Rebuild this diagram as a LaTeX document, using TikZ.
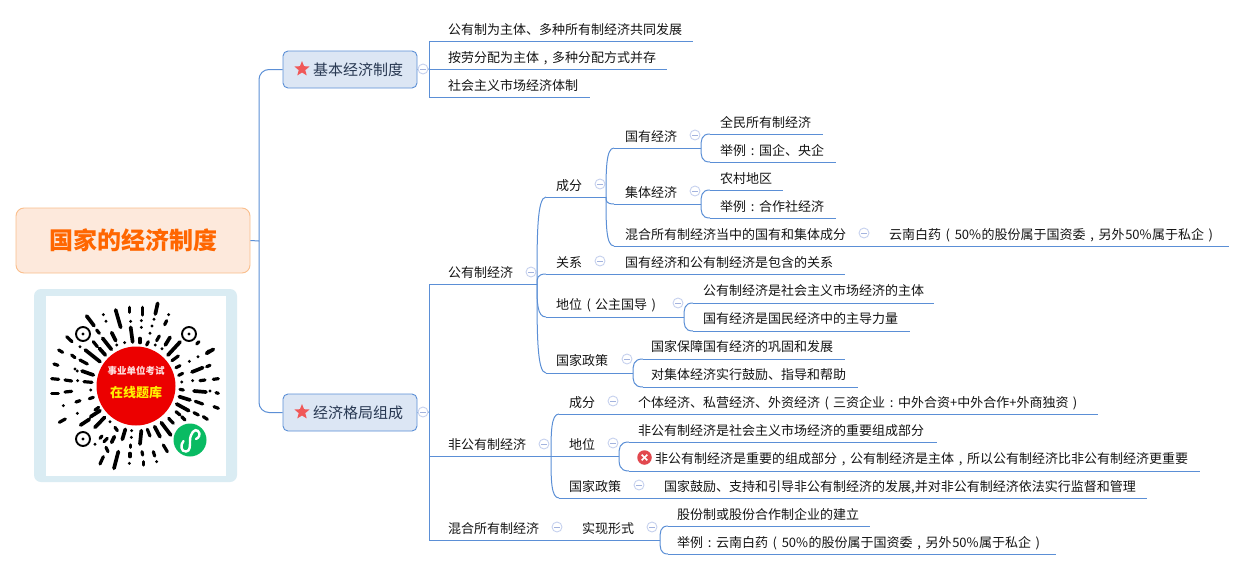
\documentclass[tikz,border=0pt]{standalone}
\usepackage{fontspec}
\setmainfont{Noto Sans CJK SC}
\usetikzlibrary{calc,shapes.geometric}
\definecolor{lineblue}{HTML}{5B8FD6}
\definecolor{boxfill}{HTML}{DCE6F4}
\definecolor{ink}{HTML}{141414}
\definecolor{togglecol}{HTML}{C6D1EE}
\definecolor{toggledash}{HTML}{A3B3DE}
\newcommand{\fw}[1]{\makebox[1em][c]{#1}}
\newcommand{\pct}{\makebox[27.5pt][c]{50\%}}
\tikzset{
  txt/.style={anchor=west,inner sep=0pt,text=ink,font=\fontsize{13}{13}\selectfont,text height=12pt,text depth=0.5pt},
  maintxt/.style={anchor=west,inner sep=0pt,text={rgb,255:red,40;green,56;blue,82},font=\fontsize{15}{15}\selectfont,text height=13pt,text depth=2pt},
  ln/.style={draw=lineblue,line width=1pt},
  mainbox/.style={draw=lineblue,fill=boxfill,rounded corners=5pt,line width=0.9pt,minimum width=134pt,minimum height=37pt,inner sep=0pt},
  togglec/.style={circle,draw=togglecol,fill=white,line width=0.9pt,minimum size=10pt,inner sep=0pt},
  qrd/.style={line width=3.2pt,line cap=round,black},
  qrs/.style={line width=3.7pt,line cap=round,black}
}
% name x1 x2 y textx texty text
\newcommand{\topicline}[7]{%
  \coordinate (#1-s) at (#2,#4);
  \coordinate (#1-e) at (#3,#4);
  \node[txt] (#1) at (#5,#6) {#7};
  \draw[ln] (#1-s) -- (#1-e);
}
\newcommand{\tail}[4]{%
  \node[txt] (#1) at (#2,#3) {#4};
}
\newcommand{\toggle}[3]{%
  \node[togglec] (#1) at (#2,#3) {};
  \draw[toggledash,line width=0.9pt] ($(#1.center)+(-3,0)$) -- ($(#1.center)+(3,0)$);
}
\newcommand{\branch}[2]{%
  \draw[ln] (#1) .. controls ($(#1)!0.55!(#1|-#2)$) and (#1|-#2) .. (#2);
}
\begin{document}
\begin{tikzpicture}[x=1pt,y=-1pt]
\useasboundingbox (0,0) rectangle (1246,570);
\fill[white] (0,0) rectangle (1246,570);

% root
\node[draw={rgb,255:red,250;green,190;blue,140},fill={rgb,255:red,253;green,233;blue,220},rounded corners=8pt,line width=0.9pt,minimum width=234pt,minimum height=65pt,inner sep=0pt,text={rgb,255:red,255;green,102;blue,0},font=\fontsize{24}{24}\selectfont\bfseries] (root) at (133,240.5) {国家的经济制度};

% QR panel
\fill[fill={rgb,255:red,218;green,236;blue,243},rounded corners=7pt] (34,289) rectangle (237,482);
\fill[white] (46,296) rectangle (226,476);
\begin{scope}[x=0.33333pt,y=-0.33333pt,yshift=-190pt]
\foreach \a/\b/\c/\d in {
 388/352/388/367, 428/352/428/375, 392/394/392/394, 424/392/424/392, 424/412/424/412, 462/388/462/388, 456/408/456/408,
 310/374/310/374, 318/394/318/394, 506/374/506/374, 500/392/494/404,
 290/420/298/430, 374/458/374/458, 420/445/420/458, 450/430/450/430, 445/455/440/465, 478/438/470/452,
 280/455/292/470, 350/465/350/465, 466/465/466/465, 486/476/486/476,
 200/440/216/455, 240/470/240/470, 597/455/590/462, 176/480/188/487, 215/495/225/503, 240/510/262/522,
 628/482/620/490, 594/500/594/500, 568/514/568/514, 535/498/516/512, 540/527/528/533,
 162/522/174/526, 225/537/225/537, 232/543/232/543, 630/526/620/530, 548/550/536/556,
 155/566/176/568, 195/570/215/573, 233/572/233/572, 252/575/276/577, 655/566/640/568, 615/570/600/572, 578/572/578/572, 545/576/545/576,
 155/610/175/610, 195/606/215/604, 272/600/272/600, 655/610/648/608, 550/600/540/598, 630/603/630/603,
 190/647/190/647, 228/636/240/632, 268/626/280/622, 655/655/642/650, 608/642/586/634,
 232/670/232/670, 178/697/196/687, 285/660/296/652, 622/688/610/680, 595/675/582/668,
 345/712/352/722, 330/695/330/695, 300/745/306/738, 322/745/312/755, 285/763/285/763, 395/722/395/722, 394/742/394/742,
 392/765/392/772, 390/790/390/800, 388/820/388/820, 426/785/428/795, 430/815/430/825, 442/718/450/738,
 460/785/464/798, 470/815/470/815, 490/765/502/785, 300/822/310/800, 318/772/324/785, 506/685/520/700, 528/665/540/675, 545/680/555/690}
 {\draw[qrd] (\a,\b) -- (\c,\d);}
\foreach \a/\b/\c/\d in {
 260/378/282/407, 347/360/362/412, 473/340/466/372, 335/428/347/452, 392/412/398/456, 510/442/496/465,
 308/445/334/478, 298/475/316/495, 256/480/300/515, 540/456/504/495, 640/478/620/490,
 246/543/280/555, 608/533/576/546, 618/606/582/603, 570/630/538/620,
 272/680/300/662, 242/705/268/688, 285/712/314/682, 566/662/530/642,
 335/757/343/740, 367/748/376/718, 420/762/424/722, 464/710/480/740, 484/698/512/735, 342/835/355/785}
 {\draw[qrs] (\a,\b) -- (\c,\d);}
\end{scope}
\foreach \cx/\cy in {83/334,189/334,83/439}{
  \draw[black,line width=1.9pt] (\cx,\cy) circle (7pt);
  \fill[black] (\cx,\cy) circle (1.7pt);
}
\fill[fill={rgb,255:red,236;green,0;blue,0}] (136,386) circle (39.5pt);
\node[inner sep=0pt,text={rgb,255:red,255;green,225;blue,225},font=\fontsize{9.5}{9.5}\selectfont\bfseries] (qrtop) at (136,371) {事业单位考试};
\node[inner sep=0pt,text={rgb,255:red,255;green,240;blue,0},font=\fontsize{13}{13}\selectfont\bfseries] (qrbot) at (136,393) {在线题库};
\fill[fill={rgb,255:red,9;green,187;blue,99}] (190,440) circle (16.5pt);
\draw[white,line width=2.4pt,line cap=round] (183.5,441) .. controls (180,445) and (181,452) .. (186,451.5) .. controls (190,451) and (190,447) .. (190,441) .. controls (190,433) and (195,428) .. (198,431) .. controls (201,434) and (199,438) .. (196,439);

% main topics
\coordinate (trunk) at (259,241);
\node[mainbox] (m1) at (350,69.5) {};
\node[mainbox] (m2) at (350,412.5) {};
\node[star,star points=5,star point ratio=2.3,minimum size=16pt,inner sep=0pt,fill={rgb,255:red,240;green,88;blue,88}] (star1) at (302,69) {};
\node[star,star points=5,star point ratio=2.3,minimum size=16pt,inner sep=0pt,fill={rgb,255:red,240;green,88;blue,88}] (star2) at (302,412) {};
\node[maintxt] (m1t) at (313,69.5) {基本经济制度};
\node[maintxt] (m2t) at (313,412.5) {经济格局组成};
\draw[ln] (root.east) -- (trunk);
\draw[ln,rounded corners=10pt] (trunk) |- (m1.west);
\draw[ln,rounded corners=10pt] (trunk) |- (m2.west);

% branch 1
\coordinate (h1) at (429,69);
\draw[ln] (m1.east) -- (h1);
\topicline{a1}{429}{693}{41}{448}{29}{公有制为主体、多种所有制经济共同发展}
\topicline{a2}{429}{667}{69}{448}{57}{按劳分配为主体\fw{,}多种分配方式并存}
\topicline{a3}{429}{590}{97}{448}{85}{社会主义市场经济体制}
\draw[ln] (a1-s) -- (a3-s);
\toggle{ta}{423}{69}

% branch 2
\coordinate (h2) at (429,412);
\draw[ln] (m2.east) -- (h2);
\topicline{b1}{429}{537}{284}{448}{272}{公有制经济}
\topicline{b2}{429}{551}{456}{448}{444}{非公有制经济}
\topicline{b3}{429}{660}{540}{448}{528}{混合所有制经济}
\draw[ln] (b1-s) -- (b3-s);
\toggle{tb}{423}{412}
\toggle{tb1}{531}{272}
\toggle{tb2}{544}{444}
\toggle{tb3}{557}{527}

% public economy
\topicline{c1}{546}{606}{197}{556}{185}{成分}
\topicline{c2}{546}{845}{274}{556}{262}{关系}
\topicline{c3}{546}{684}{317}{556}{304}{地位\fw{(}公主国导\fw{)}}
\topicline{c4}{546}{633}{373}{556}{360}{国家政策}
\foreach \n in {c1,c2,c3,c4}{\branch{b1-e}{\n-s}}
\toggle{tc1}{600}{184}
\toggle{tc2}{600}{261}
\toggle{tc3}{678}{303}
\toggle{tc4}{627}{359}
\tail{c2t}{625}{262}{国有经济和公有制经济是包含的关系}

\topicline{d1}{614}{701}{148}{625}{136}{国有经济}
\topicline{d2}{614}{701}{204}{625}{192}{集体经济}
\topicline{d3}{614}{1229}{246}{625}{234}{混合所有制经济当中的国有和集体成分}
\foreach \n in {d1,d2,d3}{\branch{c1-e}{\n-s}}
\toggle{td1}{695}{135}
\toggle{td2}{695}{191}
\toggle{td3}{864}{233}
\tail{d3t}{889}{234}{云南白药\fw{(}\pct 的股份属于国资委\fw{,}另外\pct 属于私企\fw{)}}

\topicline{e1}{710}{823}{134}{720}{122}{全民所有制经济}
\topicline{e2}{710}{836}{162}{720}{150}{举例\fw{:}国企、央企}
\foreach \n in {e1,e2}{\branch{d1-e}{\n-s}}
\topicline{e3}{710}{783}{190}{720}{178}{农村地区}
\topicline{e4}{710}{836}{218}{720}{206}{举例\fw{:}合作社经济}
\foreach \n in {e3,e4}{\branch{d2-e}{\n-s}}

\topicline{f1}{693}{934}{303}{703}{290}{公有制经济是社会主义市场经济的主体}
\topicline{f2}{693}{910}{331}{703}{318}{国有经济是国民经济中的主导力量}
\foreach \n in {f1,f2}{\branch{c3-e}{\n-s}}
\topicline{f3}{643}{845}{359}{651}{346}{国家保障国有经济的巩固和发展}
\topicline{f4}{643}{858}{387}{651}{374}{对集体经济实行鼓励、指导和帮助}
\foreach \n in {f3,f4}{\branch{c4-e}{\n-s}}

% non-public economy
\topicline{g1}{559}{1098}{414}{569}{402}{成分}
\topicline{g2}{551}{619}{456}{569}{444}{地位}
\topicline{g3}{559}{1147}{498}{569}{486}{国家政策}
\branch{b2-e}{g1-s}
\branch{b2-e}{g3-s}
\toggle{tg1}{613}{401}
\toggle{tg2}{613}{443}
\toggle{tg3}{639}{485}
\tail{g1t}{638}{402}{个体经济、私营经济、外资经济\fw{(}三资企业\fw{:}中外合资+中外合作+外商独资\fw{)}}
\tail{g3t}{664}{486}{国家鼓励、支持和引导非公有制经济的发展,并对非公有制经济依法实行监督和管理}
\topicline{h3}{629}{937}{442}{638}{430}{非公有制经济是社会主义市场经济的重要组成部分}
\topicline{h4}{629}{1200}{471}{655}{458}{非公有制经济是重要的组成部分\fw{,}公有制经济是主体\fw{,}所以公有制经济比非公有制经济更重要}
\foreach \n in {h3,h4}{\branch{g2-e}{\n-s}}
\node[circle,fill={rgb,255:red,226;green,72;blue,78},minimum size=14.5pt,inner sep=0pt] (xicon) at (644.5,457.5) {};
\draw[white,line width=1.7pt] ($(xicon.center)+(-2.8,-2.8)$) -- ($(xicon.center)+(2.8,2.8)$);
\draw[white,line width=1.7pt] ($(xicon.center)+(-2.8,2.8)$) -- ($(xicon.center)+(2.8,-2.8)$);

% mixed economy
\tail{b3t}{582}{528}{实现形式}
\toggle{tb4}{652}{527}
\topicline{i1}{668}{870}{526}{677}{514}{股份制或股份合作制企业的建立}
\topicline{i2}{668}{1056}{554}{677}{542}{举例\fw{:}云南白药\fw{(}\pct 的股份属于国资委\fw{,}另外\pct 属于私企\fw{)}}
\foreach \n in {i1,i2}{\branch{b3-e}{\n-s}}
\end{tikzpicture}
\end{document}
